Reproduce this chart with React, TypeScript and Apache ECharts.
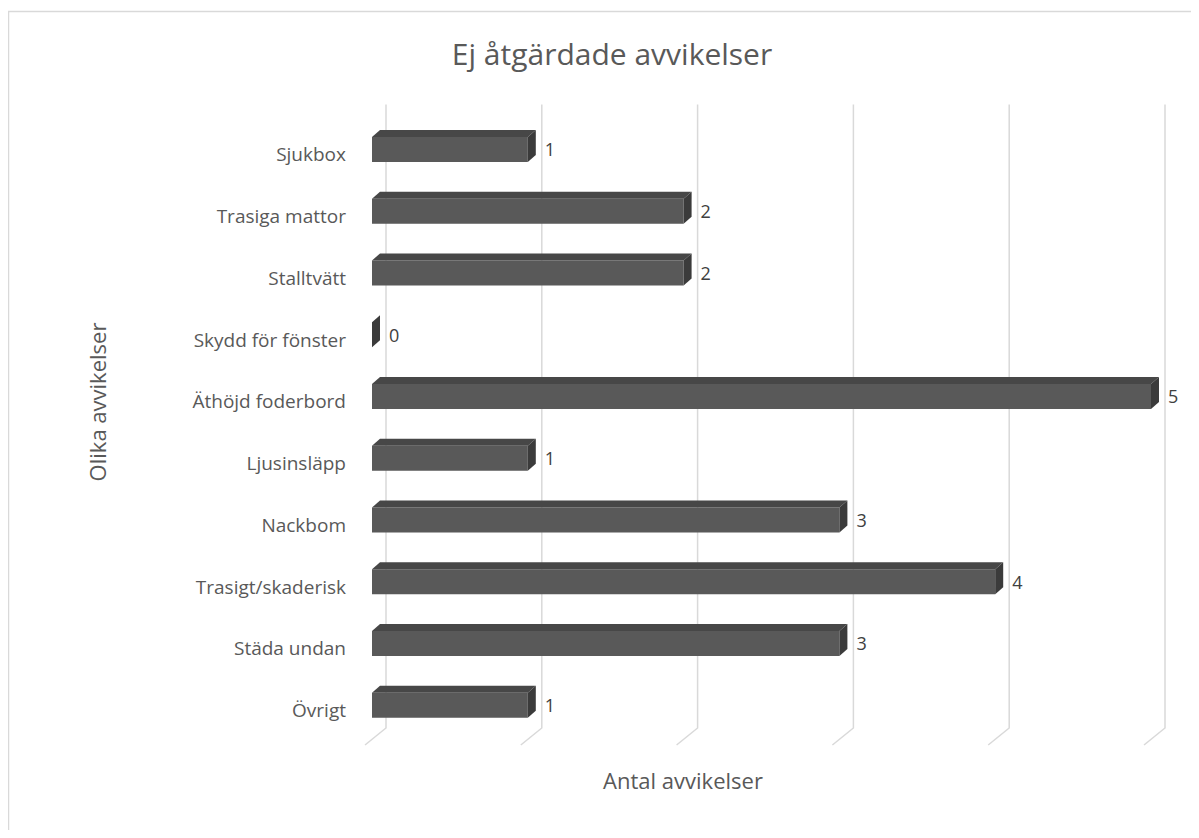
import React, { useEffect, useRef } from "react";
import * as echarts from "echarts";

const categories = [
  "Sjukbox",
  "Trasiga mattor",
  "Stalltvätt",
  "Skydd för fönster",
  "Äthöjd foderbord",
  "Ljusinsläpp",
  "Nackbom",
  "Trasigt/skaderisk",
  "Städa undan",
  "Övrigt",
];
const values = [1, 2, 2, 0, 5, 1, 3, 4, 3, 1];
const gridTicks = [0, 1, 2, 3, 4, 5];

const FONT = "'Open Sans', 'Noto Sans', sans-serif";

export default function App() {
  const ref = useRef<HTMLDivElement>(null);
  useEffect(() => {
    if (!ref.current) return;
    const chart = echarts.init(ref.current, undefined, { renderer: "svg" });
    const barData = values.map((v, i) => [v, i]);
    const option: any = {
      animation: false,
      backgroundColor: "#ffffff",
      title: {
        text: "Ej åtgärdade avvikelser",
        left: 599,
        top: 25,
        textAlign: "center",
        textStyle: { fontFamily: FONT, fontSize: 30, fontWeight: "normal", color: "#595959" },
      },
      graphic: [
        {
          type: "rect",
          shape: { x: 0.5, y: 3.5, width: 1300, height: 1000 },
          style: { fill: "none", stroke: "#d9d9d9", lineWidth: 1.5 },
          silent: true,
        },
        {
          type: "text",
          x: 675,
          y: 772,
          style: {
            text: "Antal avvikelser",
            fontFamily: FONT,
            fontSize: 22,
            fill: "#595959",
            textAlign: "center",
            textVerticalAlign: "middle",
          },
        },
        {
          type: "text",
          x: 89,
          y: 394,
          rotation: Math.PI / 2,
          style: {
            text: "Olika avvikelser",
            fontFamily: FONT,
            fontSize: 22,
            fill: "#595959",
            textAlign: "center",
            textVerticalAlign: "middle",
          },
        },
      ],
      grid: { left: 364, right: 40, top: 110.6, bottom: 94, containLabel: false },
      xAxis: {
        type: "value",
        min: 0,
        max: 5,
        interval: 1,
        axisLine: { show: false },
        axisTick: { show: false },
        axisLabel: { show: false },
        splitLine: { show: false },
      },
      yAxis: {
        type: "category",
        data: categories,
        inverse: true,
        axisLine: { show: false },
        axisTick: { show: false },
        splitLine: { show: false },
        axisLabel: { show: false },
      },
      series: [
        {
          type: "custom",
          z: 1,
          data: gridTicks.map((t) => [t, 0]),
          encode: { x: 0, y: 1 },
          renderItem: (params: any, api: any) => {
            const p = api.coord([api.value(0), 0]);
            const cs = params.coordSys;
            const x = p[0];
            const yTop = cs.y - 14;
            const yBack = cs.y + cs.height - 8;
            const yFront = cs.y + cs.height + 9;
            return {
              type: "polyline",
              shape: {
                points: [
                  [x + 14, yTop],
                  [x + 14, yBack],
                  [x - 7, yFront],
                ],
              },
              style: { stroke: "#d9d9d9", lineWidth: 1.5, fill: "none" },
              silent: true,
            };
          },
        },
        {
          type: "custom",
          z: 2,
          data: barData,
          encode: { x: 0, y: 1 },
          renderItem: (params: any, api: any) => {
            const v = api.value(0);
            const idx = api.value(1);
            const p0 = api.coord([0, idx]);
            const p1 = api.coord([v, idx]);
            const h = 25;
            const dx = 8;
            const dy = 7;
            const x0 = p0[0];
            const x1 = p1[0];
            const yc = p0[1];
            const top = yc - h / 2;
            const bot = yc + h / 2;
            const children: any[] = [];
            if (x1 - x0 > 0.5) {
              children.push({
                type: "rect",
                shape: { x: x0, y: top, width: x1 - x0, height: h },
                style: { fill: "#595959" },
              });
              children.push({
                type: "polygon",
                shape: {
                  points: [
                    [x0, top],
                    [x0 + dx, top - dy],
                    [x1 + dx, top - dy],
                    [x1, top],
                  ],
                },
                style: { fill: "#474747" },
              });
            }
            children.push({
              type: "polygon",
              shape: {
                points: [
                  [x1, top],
                  [x1 + dx, top - dy],
                  [x1 + dx, bot - dy],
                  [x1, bot],
                ],
              },
              style: { fill: "#3b3b3b" },
            });
            children.push({
              type: "text",
              x: x1 + dx + 9,
              y: yc,
              style: {
                text: String(v),
                fontFamily: FONT,
                fontSize: 18,
                fill: "#404040",
                textAlign: "left",
                textVerticalAlign: "middle",
              },
            });
            children.push({
              type: "text",
              x: x0 - 26,
              y: yc + 5,
              style: {
                text: categories[idx],
                fontFamily: FONT,
                fontSize: 19,
                fill: "#595959",
                textAlign: "right",
                textVerticalAlign: "middle",
              },
            });
            return { type: "group", children };
          },
        },
      ],
    };
    chart.setOption(option);
    return () => chart.dispose();
  }, []);
  return <div ref={ref} style={{ width: 1183, height: 822 }} />;
}
